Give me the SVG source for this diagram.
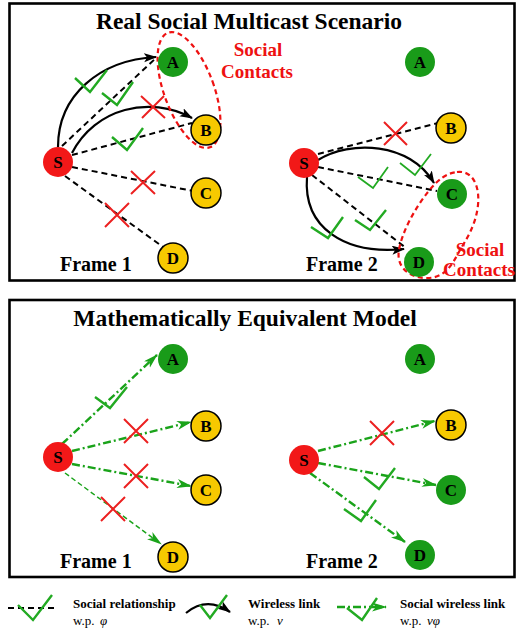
<svg xmlns="http://www.w3.org/2000/svg" width="517" height="632" viewBox="0 0 517 632">
<style>
text{font-family:'Liberation Serif','DejaVu Serif',serif;font-weight:bold}
.frame{fill:none;stroke:#000;stroke-width:2.6}
.title{font-size:23.5px;text-anchor:middle}
.flab{font-size:20px}
.nl{font-size:17px;text-anchor:middle}
.red{fill:#f21818}
.grn{fill:#199b19}
.yel{fill:#f7c900;stroke:#000;stroke-width:1.5}
.soc{font-size:19px;fill:#ee1111}
.ell{fill:none;stroke:#ee1111;stroke-width:2.2;stroke-dasharray:5,3.5}
.dash{fill:none;stroke:#000;stroke-width:2;stroke-dasharray:6,4}
.solid{fill:none;stroke:#000;stroke-width:2.2}
.gdd{fill:none;stroke:#1aa31a;stroke-width:2.4;stroke-dasharray:8,3,2,3}
.gthin{fill:none;stroke:#1aa31a;stroke-width:1.5;stroke-dasharray:5,3}
.chk{fill:none;stroke:#22aa22;stroke-width:2.4}
.chk2{fill:none;stroke:#22aa22;stroke-width:1.8}
.x{stroke:#ec2020;stroke-width:2}
.leg{font-size:13px}
.wp{font-size:13px;font-weight:normal}
</style>
<defs>
<marker id="ab" markerUnits="userSpaceOnUse" markerWidth="14" markerHeight="10" refX="12" refY="4.5" orient="auto">
<path d="M0,0 L13,4.5 L0,9 L3,4.5 z" fill="#000"/>
</marker>
<marker id="ag" markerUnits="userSpaceOnUse" markerWidth="16" markerHeight="10" refX="14" refY="4.5" orient="auto">
<path d="M0,0 L15,4.5 L0,9 L4,4.5 z" fill="#1aa31a"/>
</marker>
</defs>

<rect class="frame" x="9.5" y="3.5" width="505" height="277"/>
<rect class="frame" x="9.5" y="300" width="505" height="277"/>
<text class="title" x="249" y="29">Real Social Multicast Scenario</text>
<text class="title" x="245" y="326">Mathematically Equivalent Model</text>

<g id="connectors">
<path class="solid" d="M58,147 C58,95 100,60 156,57" marker-end="url(#ab)"/>
<path class="solid" d="M72,153 C95,108 150,95 192,118" marker-end="url(#ab)"/>
<line class="dash" x1="62" y1="146" x2="157" y2="57"/>
<line class="dash" x1="72" y1="155" x2="192" y2="123"/>
<line class="dash" x1="72" y1="167" x2="193" y2="191"/>
<line class="dash" x1="65" y1="176" x2="163" y2="247"/>
<line class="dash" x1="318" y1="154" x2="438" y2="123"/>
<path class="solid" d="M318,160 C350,140 410,142 434,183" marker-end="url(#ab)"/>
<line class="dash" x1="318" y1="167" x2="437" y2="191"/>
<line class="dash" x1="312" y1="175" x2="406" y2="248"/>
<path class="solid" d="M307,177 C303,228 345,255 404,249" marker-end="url(#ab)"/>
<line class="gdd" x1="62" y1="444" x2="157" y2="355" marker-end="url(#ag)"/>
<line class="gdd" x1="72" y1="451" x2="191" y2="422" marker-end="url(#ag)"/>
<line class="gdd" x1="72" y1="464" x2="191" y2="486" stroke-width="3" marker-end="url(#ag)"/>
<line class="gthin" x1="65" y1="473" x2="161" y2="544" marker-end="url(#ag)"/>
<line class="gdd" x1="318" y1="451" x2="435" y2="421" marker-end="url(#ag)"/>
<line class="gdd" x1="318" y1="463" x2="436" y2="485" marker-end="url(#ag)"/>
<line class="gdd" x1="310" y1="473" x2="405" y2="542" marker-end="url(#ag)"/>
</g>

<g id="marks">
<polyline class="chk" points="75,78 90,92 107,70"/>
<polyline class="chk" points="102,93 117,105 133,82"/>
<polyline class="chk" points="112,137 127,150 143,128"/>
<path class="x" d="M141,96 L165,118 M164,96 L142,118"/>
<path class="x" d="M131,171 L155,194 M155,171 L131,194"/>
<path class="x" d="M105,203 L129,227 M129,203 L105,227"/>
<path class="x" d="M384,122 L407,145 M407,122 L384,145"/>
<polyline class="chk2" points="400,163 415,175 431,154"/>
<polyline class="chk2" points="358,177 373,188 388,167"/>
<polyline class="chk" points="311,227 328,238 343,217"/>
<polyline class="chk" points="355,220 370,230 386,210"/>
<polyline class="chk" points="95,397 110,408 127,387"/>
<path class="x" d="M124,419 L148,443 M148,419 L124,443"/>
<path class="x" d="M124,464 L148,488 M148,464 L124,488"/>
<path class="x" d="M101,497 L125,521 M125,497 L101,521"/>
<path class="x" d="M370,421 L394,445 M394,421 L370,445"/>
<polyline class="chk" points="364,477 379,489 395,468"/>
<polyline class="chk" points="344,509 361,521 376,500"/>
</g>

<g id="social-contacts-1">
<ellipse class="ell" cx="189" cy="90" rx="25" ry="61" transform="rotate(-20 189 90)"/>
<text class="soc" x="258" y="56" text-anchor="middle">Social</text>
<text class="soc" x="257" y="78" text-anchor="middle">Contacts</text>
</g>
<g id="social-contacts-2">
<path class="ell" d="M457,172 C472,170 480,185 478,205 C476,225 466,240 460,250 C452,265 445,278 427,278 C408,278 396,266 399,250 C402,232 415,208 428,192 C438,179 447,173 457,172 Z"/>
<text class="soc" x="480" y="256" text-anchor="middle">Social</text>
<text class="soc" x="479" y="276" text-anchor="middle">Contacts</text>
</g>

<g id="t1-S"><circle class="red" cx="58" cy="162" r="15"/><text class="nl" x="58" y="168">S</text></g>
<g id="t1-A"><circle class="grn" cx="173" cy="62" r="15"/><text class="nl" x="173" y="68">A</text></g>
<g id="t1-B"><circle class="yel" cx="206" cy="130" r="15"/><text class="nl" x="206" y="136">B</text></g>
<g id="t1-C"><circle class="yel" cx="206" cy="193" r="15"/><text class="nl" x="206" y="199">C</text></g>
<g id="t1-D"><circle class="yel" cx="173" cy="258" r="15"/><text class="nl" x="173" y="264">D</text></g>
<text class="flab" x="60" y="271">Frame 1</text>
<g id="t2-S"><circle class="red" cx="304" cy="163" r="15"/><text class="nl" x="304" y="169">S</text></g>
<g id="t2-A"><circle class="grn" cx="420" cy="62" r="15"/><text class="nl" x="420" y="68">A</text></g>
<g id="t2-B"><circle class="yel" cx="451" cy="128" r="15"/><text class="nl" x="451" y="134">B</text></g>
<g id="t2-C"><circle class="grn" cx="452" cy="194" r="15"/><text class="nl" x="452" y="200">C</text></g>
<g id="t2-D"><circle class="grn" cx="419" cy="262" r="15"/><text class="nl" x="419" y="268">D</text></g>
<text class="flab" x="306" y="271">Frame 2</text>
<g id="b1-S"><circle class="red" cx="58" cy="457" r="15"/><text class="nl" x="58" y="463">S</text></g>
<g id="b1-A"><circle class="grn" cx="173" cy="359" r="15"/><text class="nl" x="173" y="365">A</text></g>
<g id="b1-B"><circle class="yel" cx="206" cy="426" r="15"/><text class="nl" x="206" y="432">B</text></g>
<g id="b1-C"><circle class="yel" cx="206" cy="490" r="15"/><text class="nl" x="206" y="496">C</text></g>
<g id="b1-D"><circle class="yel" cx="173" cy="557" r="15"/><text class="nl" x="173" y="563">D</text></g>
<text class="flab" x="60" y="568">Frame 1</text>
<g id="b2-S"><circle class="red" cx="304" cy="460" r="15"/><text class="nl" x="304" y="466">S</text></g>
<g id="b2-A"><circle class="grn" cx="420" cy="359" r="15"/><text class="nl" x="420" y="365">A</text></g>
<g id="b2-B"><circle class="yel" cx="451" cy="425" r="15"/><text class="nl" x="451" y="431">B</text></g>
<g id="b2-C"><circle class="grn" cx="451" cy="490" r="15"/><text class="nl" x="451" y="496">C</text></g>
<g id="b2-D"><circle class="grn" cx="420" cy="555" r="15"/><text class="nl" x="420" y="561">D</text></g>
<text class="flab" x="306" y="568">Frame 2</text>

<g id="legend">
<line class="dash" x1="8" y1="608" x2="58" y2="608"/>
<polyline class="chk" points="18,605 33,620 52,595"/>
<text class="leg" x="73" y="608">Social relationship</text>
<text class="wp" x="73" y="625">w.p. <tspan x="100" font-style="italic">φ</tspan></text>
<path class="solid" d="M186,613 Q207,596 230,612" marker-end="url(#ab)"/>
<polyline class="chk" points="200,605 210,618 227,595"/>
<text class="leg" x="248" y="608">Wireless link</text>
<text class="wp" x="248" y="625">w.p. <tspan x="277" font-style="italic">ν</tspan></text>
<line class="gdd" x1="337" y1="607" x2="386" y2="607" marker-end="url(#ag)"/>
<polyline class="chk" points="347,608 362,620 377,598"/>
<text class="leg" x="400" y="608">Social wireless link</text>
<text class="wp" x="400" y="625">w.p. <tspan x="427" font-style="italic">νφ</tspan></text>
</g>
</svg>
